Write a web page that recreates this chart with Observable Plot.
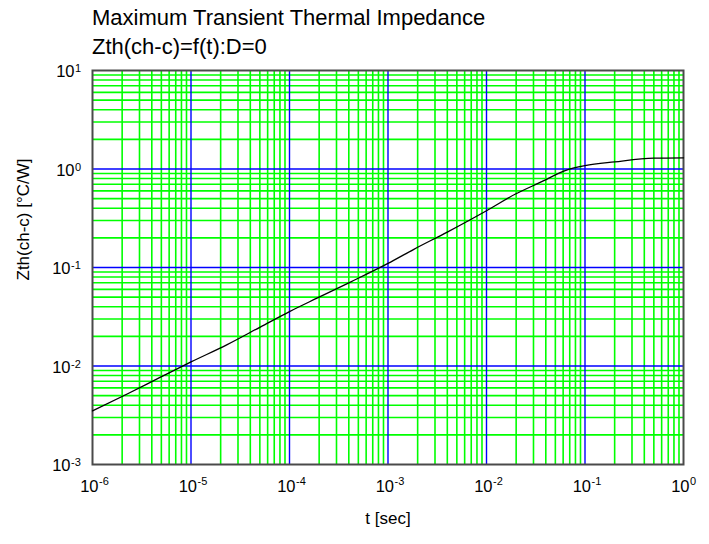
<!DOCTYPE html>
<html>
<head>
<meta charset="utf-8">
<script src="https://cdn.jsdelivr.net/npm/d3@7"></script>
<script src="https://cdn.jsdelivr.net/npm/@observablehq/plot@0.6"></script>
<style>
  html, body { margin: 0; padding: 0; background: #fff; }
  #chart { position: relative; width: 709px; height: 544px; font-family: "Liberation Sans", Arial, sans-serif; }
  .title { position: absolute; left: 92px; font-size: 22px; line-height: 22px; color: #000; white-space: nowrap; }
  #chart svg { position: absolute; left: 0; top: 0; }
</style>
</head>
<body>
<div id="chart">
  <div class="title" style="top:7.4px">Maximum Transient Thermal Impedance</div>
  <div class="title" style="top:36.4px">Zth(ch-c)=f(t):D=0</div>
</div>
<script>
// Decade exponents used for the tick labels on each axis
const xExponents = [-6, -5, -4, -3, -2, -1, 0];
const yExponents = [-3, -2, -1, 0, 1];

// Pulse duration t [sec] and transient thermal impedance Zth(ch-c) [°C/W]
const tSec = [1e-6, 2.25e-6, 4.9e-6, 1e-5, 2.33e-5, 5.1e-5, 1e-4, 1.9e-4, 4.2e-4, 1e-3, 1.83e-3, 4e-3, 1e-2, 1.97e-2, 3.5e-2, 6.6e-2, 1e-1, 2e-1, 5e-1, 1];
const zth  = [0.0035, 0.0052, 0.0077, 0.011, 0.0165, 0.025, 0.0357, 0.0488, 0.0715, 0.110, 0.153, 0.229, 0.377, 0.557, 0.73, 0.98, 1.08, 1.18, 1.29, 1.30];

const curve = tSec.map((t, i) => ({t, z: zth[i]}));

// Grid positions: 2..9 inside every decade, and the interior decades
const steps = [2, 3, 4, 5, 6, 7, 8, 9];
const minorX = xExponents.slice(0, -1).flatMap(e => steps.map(k => k * 10 ** e));
const minorY = yExponents.slice(0, -1).flatMap(e => steps.map(k => k * 10 ** e));
const majorX = xExponents.slice(1, -1).map(e => 10 ** e);
const majorY = yExponents.slice(1, -1).map(e => 10 ** e);

const neg = yExponents.filter(e => e < 0);
const pos = yExponents.filter(e => e >= 0);

const green = "#00ff00";
const blue = "#0000ff";

const chart = Plot.plot({
  width: 709,
  height: 544,
  marginLeft: 92,
  marginRight: 26,
  marginTop: 70,
  marginBottom: 80,
  style: {fontFamily: "'Liberation Sans', Arial, sans-serif", background: "transparent", color: "#000"},
  x: {type: "log", domain: [1e-6, 1], axis: null},
  y: {type: "log", domain: [1e-3, 10], axis: null},
  marks: [
    Plot.ruleX(minorX, {stroke: green, strokeWidth: 1.6}),
    Plot.ruleY(minorY, {stroke: green, strokeWidth: 1.6}),
    Plot.ruleX(majorX, {stroke: blue, strokeWidth: 1.4}),
    Plot.ruleY(majorY, {stroke: blue, strokeWidth: 1.4}),
    Plot.frame({stroke: "#4a4a4a", strokeWidth: 2}),
    Plot.line(curve, {x: "t", y: "z", stroke: "#000", strokeWidth: 1.3, curve: "monotone-x"}),
    // x tick labels: "10" with a raised exponent
    Plot.text(xExponents, {x: e => 10 ** e, text: () => "10", frameAnchor: "bottom", textAnchor: "end", dx: 6, dy: 27.5, fontSize: 16.5, fill: "#000"}),
    Plot.text(xExponents, {x: e => 10 ** e, text: e => String(e), frameAnchor: "bottom", textAnchor: "start", dx: 6.5, dy: 20.5, fontSize: 11, fill: "#000"}),
    // y tick labels
    Plot.text(neg, {y: e => 10 ** e, text: () => "10", frameAnchor: "left", textAnchor: "end", dx: -22, dy: 1.7, fontSize: 16.5, fill: "#000"}),
    Plot.text(neg, {y: e => 10 ** e, text: e => String(e), frameAnchor: "left", textAnchor: "start", dx: -21.5, dy: -2, fontSize: 11, fill: "#000"}),
    Plot.text(pos, {y: e => 10 ** e, text: () => "10", frameAnchor: "left", textAnchor: "end", dx: -18, dy: 1.7, fontSize: 16.5, fill: "#000"}),
    Plot.text(pos, {y: e => 10 ** e, text: e => String(e), frameAnchor: "left", textAnchor: "start", dx: -17.5, dy: -2, fontSize: 11, fill: "#000"}),
    // axis titles
    Plot.text(["t [sec]"], {text: d => d, frameAnchor: "bottom", dy: 59.5, fontSize: 17, fill: "#000"}),
    Plot.text(["Zth(ch-c) [°C/W]"], {text: d => d, frameAnchor: "left", rotate: -90, dx: -68.5, dy: 13, fontSize: 17, fill: "#000"})
  ]
});

document.getElementById("chart").appendChild(chart);
</script>
</body>
</html>
